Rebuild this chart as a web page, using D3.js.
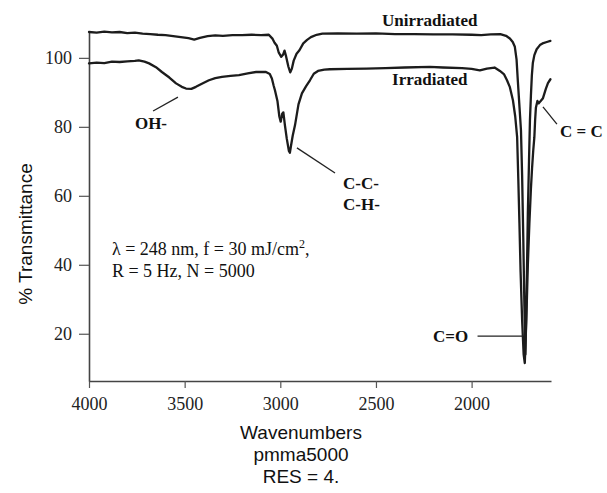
<!DOCTYPE html>
<html>
<head>
<meta charset="utf-8">
<script src="https://cdn.jsdelivr.net/npm/d3@7"></script>
<style>
  html, body { margin: 0; padding: 0; background: #fff; }
  svg { display: block; }
</style>
</head>
<body>
<svg id="chart" width="607" height="493"></svg>
<script>
// ---------- data ----------
const xTicks = [4000, 3500, 3000, 2500, 2000];
const yTicks = [20, 40, 60, 80, 100];

const unirrWn = [4000,3960,3920,3880,3840,3800,3760,3720,3680,3640,3600,3560,3520,3480,3450,3420,3380,3340,3300,3250,3200,3150,3100,3060,3040,3030,3018,3008,2995,2985,2978,2970,2958,2948,2940,2930,2915,2900,2880,2860,2840,2810,2780,2700,2600,2500,2400,2300,2200,2100,2000,1950,1900,1850,1820,1800,1785,1774,1765,1758,1750,1742,1736,1730,1724,1719,1713,1706,1700,1695,1690,1685,1680,1672,1660,1643,1625,1607,1588];
const unirrT  = [107.5,107.3,107.6,107.4,107.5,107.2,107.3,107.0,106.9,106.7,106.6,106.3,106.0,105.7,105.3,105.8,106.3,106.5,106.4,106.6,106.6,106.7,106.6,106.7,105.5,104.4,103.5,101.5,100.3,101.0,102.1,100.5,97.5,95.8,96.8,99.2,101.2,102.2,104.2,105.2,106.0,106.7,107.0,107.1,107.0,107.1,106.9,106.9,106.8,106.8,106.7,106.6,106.8,106.9,106.4,105.6,104.6,103.2,99.5,93,86,79,66,48,28,14,30,55,70,82,89,95,98.5,100.8,102.5,103.7,104.3,104.6,104.9];

const irrWn = [4000,3960,3920,3880,3840,3800,3760,3740,3710,3686,3650,3619,3580,3545,3515,3493,3465,3441,3410,3373,3340,3305,3260,3216,3170,3127,3075,3055,3044,3035,3028,3015,3005,2998,2990,2984,2976,2966,2955,2950,2944,2935,2923,2905,2887,2865,2845,2825,2803,2770,2741,2650,2550,2450,2350,2218,2150,2050,2000,1957,1920,1880,1852,1830,1815,1800,1784,1772,1762,1756,1750,1744,1736,1728,1722,1714,1706,1698,1690,1684,1678,1672,1668,1664,1656,1650,1640,1627,1612,1601,1588];
const irrT  = [98.4,98.6,98.5,98.9,98.8,99.0,99.1,99.3,98.9,98.4,97.3,95.9,94.3,92.6,91.6,91.1,91.0,91.6,92.5,93.5,94.1,94.5,94.8,95.0,95.5,95.9,95.9,95.3,94.0,92.0,90.6,87.5,83.0,81.5,83.8,84.2,80.5,76.5,73.0,72.5,74.5,77.5,80.5,86.5,89.7,91.8,93.5,95.4,96.2,96.6,96.7,96.8,96.9,97.0,97.2,97.4,97.2,97.0,96.8,96.4,96.9,97.2,96.2,95.2,93.5,91.5,87.7,83,77,65,52,38,24,14,11.5,24,40,52,62,68,73,77,82,85.5,87.5,86.8,87.4,88.3,91.0,92.7,93.8];

// annotation labels (anchored in data units)
const seriesLabels = [
  { text: "Unirradiated", wn: 2468, t: 109.2 },
  { text: "Irradiated",   wn: 2416, t: 92.1 }
];
const bandLabels = [
  { lines: ["OH-"],          wn: 3676, t: 79.4, anchor: "middle", lead: [[3665, 84.6], [3535, 88.6]] },
  { lines: ["C-C-", "C-H-"], wn: 2672, t: 62.0, anchor: "start",  lead: [[2913, 73.9], [2714, 66.6]] },
  { lines: ["C = C"],        wn: 1538, t: 77.1, anchor: "start",  lead: [[1627, 85.8], [1554, 80.8]] },
  { lines: ["C=O"],          wn: 2202, t: 17.6, anchor: "start",  lead: [[1969, 19.3], [1731, 19.3]] }
];
const conditionLines = ["λ = 248 nm, f = 30 mJ/cm", "R = 5 Hz, N = 5000"];
const conditionPos = { wn: 3880, t: 42.8 };
const xTitleLines = ["Wavenumbers", "pmma5000", "RES = 4."];
const yTitle = "% Transmittance";

// ---------- chart ----------
const svg = d3.select("#chart");
const x = d3.scaleLinear().domain([4000, 1585]).range([89, 551]);
const y = d3.scaleLinear().domain([6.3, 107.5]).range([381, 32]);
const serif = "'Liberation Serif', 'Times New Roman', serif";
const sans = "'Liberation Sans', Arial, sans-serif";

// axes
const xAxis = svg.append("g").attr("transform", `translate(0,${y.range()[0]})`)
  .call(d3.axisBottom(x).tickValues(xTicks).tickFormat(d3.format("d")).tickSize(7).tickSizeOuter(0));
const yAxis = svg.append("g").attr("transform", `translate(${x.range()[0]},0)`)
  .call(d3.axisLeft(y).tickValues(yTicks).tickFormat(d3.format("d")).tickSize(10).tickSizeOuter(0).tickPadding(7));

[xAxis, yAxis].forEach(g => {
  g.select(".domain").attr("stroke", "#444").attr("stroke-width", 1.6);
  g.selectAll(".tick line").attr("stroke", "#555").attr("stroke-width", 1.2);
  g.selectAll(".tick text").attr("font-family", serif).attr("font-size", 18).attr("fill", "#222");
});
xAxis.selectAll(".tick text").attr("dy", null).attr("y", 29);

// curves
const line = d3.line().x(d => x(d[0])).y(d => y(d[1]));
const series = [
  d3.zip(unirrWn, unirrT),
  d3.zip(irrWn, irrT)
];
svg.append("g").selectAll("path").data(series).join("path")
  .attr("d", line)
  .attr("fill", "none")
  .attr("stroke", "#1c1c1c")
  .attr("stroke-width", 2.3)
  .attr("stroke-linejoin", "round")
  .attr("stroke-linecap", "round");

// series labels
svg.append("g").selectAll("text").data(seriesLabels).join("text")
  .attr("x", d => x(d.wn)).attr("y", d => y(d.t))
  .attr("font-family", serif).attr("font-size", 17).attr("font-weight", "bold").attr("fill", "#111")
  .text(d => d.text);

// band labels + leaders
const bl = svg.append("g");
bandLabels.forEach(b => {
  bl.append("line")
    .attr("x1", x(b.lead[0][0])).attr("y1", y(b.lead[0][1]))
    .attr("x2", x(b.lead[1][0])).attr("y2", y(b.lead[1][1]))
    .attr("stroke", "#222").attr("stroke-width", 1.3);
  const t = bl.append("text")
    .attr("x", x(b.wn)).attr("y", y(b.t))
    .attr("text-anchor", b.anchor)
    .attr("font-family", serif).attr("font-size", 17).attr("font-weight", "bold").attr("fill", "#111");
  b.lines.forEach((ln, i) => {
    t.append("tspan").attr("x", x(b.wn)).attr("dy", i === 0 ? 0 : 21).text(ln);
  });
});

// conditions text
const ct = svg.append("text")
  .attr("x", x(conditionPos.wn)).attr("y", y(conditionPos.t))
  .attr("font-family", serif).attr("font-size", 18).attr("fill", "#111");
ct.append("tspan").text(conditionLines[0]);
ct.append("tspan").attr("dy", -7).attr("font-size", 12).text("2");
ct.append("tspan").attr("dy", 7).text(",");
ct.append("tspan").attr("x", x(conditionPos.wn)).attr("dy", 22).text(conditionLines[1]);

// axis titles
const xt = svg.append("text")
  .attr("x", 301).attr("y", 439)
  .attr("text-anchor", "middle")
  .attr("font-family", sans).attr("font-size", 19).attr("fill", "#111");
xTitleLines.forEach((ln, i) => xt.append("tspan").attr("x", 301).attr("dy", i === 0 ? 0 : 22).text(ln));

svg.append("text")
  .attr("transform", "translate(32,234) rotate(-90)")
  .attr("text-anchor", "middle")
  .attr("font-family", sans).attr("font-size", 19).attr("fill", "#111")
  .text(yTitle);
</script>
</body>
</html>
